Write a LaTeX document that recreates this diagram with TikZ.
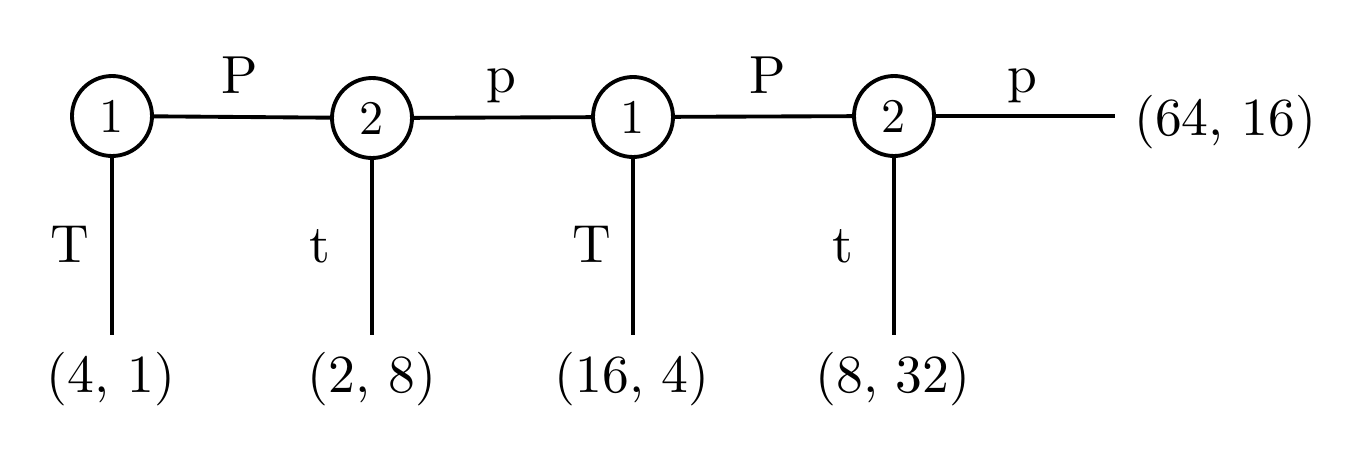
\documentclass[tikz,border=0pt]{standalone}
\newcommand{\bigtxt}[1]{\scalebox{3.05}{#1}}
\newcommand{\circtxt}[1]{\scalebox{2.75}{#1}}
\begin{document}
\begin{tikzpicture}[x=0.02cm,y=-0.02cm,
  state/.style={circle,draw,line width=2.2pt,minimum size=1.6cm,inner sep=0pt},
  wire/.style={line width=2.2pt},
  lbl/.style={inner sep=0pt,anchor=base}]
\useasboundingbox (0,0) rectangle (1350,470);
\node[state] (n1) at (112,116) {\circtxt{1}};
\node[state] (n2) at (372,118) {\circtxt{2}};
\node[state] (n3) at (633,117) {\circtxt{1}};
\node[state] (n4) at (894,116) {\circtxt{2}};
\coordinate (b1) at (112,335);
\coordinate (b2) at (372,335);
\coordinate (b3) at (633,335);
\coordinate (b4) at (894,335);
\coordinate (e) at (1115,116);
\draw[wire] (n1) -- (n2);
\draw[wire] (n2) -- (n3);
\draw[wire] (n3) -- (n4);
\draw[wire] (n4) -- (e);
\draw[wire] (n1) -- (b1);
\draw[wire] (n2) -- (b2);
\draw[wire] (n3) -- (b3);
\draw[wire] (n4) -- (b4);
\node[lbl] (l1) at (240,93) {\bigtxt{P}};
\node[lbl] (l2) at (501,92) {\bigtxt{p}};
\node[lbl] (l3) at (768,93) {\bigtxt{P}};
\node[lbl] (l4) at (1022,92) {\bigtxt{p}};
\node[lbl] (v1) at (70,262) {\bigtxt{T}};
\node[lbl] (v2) at (320,262) {\bigtxt{t}};
\node[lbl] (v3) at (592,262) {\bigtxt{T}};
\node[lbl] (v4) at (843,262) {\bigtxt{t}};
\node[lbl] (o1) at (111,392) {\bigtxt{(4, 1)}};
\node[lbl] (o2) at (372,392) {\bigtxt{(2, 8)}};
\node[lbl] (o3) at (632,392) {\bigtxt{(16, 4)}};
\node[lbl] (o4) at (893,392) {\bigtxt{(8, 32)}};
\node[lbl,anchor=base west] (o5) at (1134,135) {\bigtxt{(64, 16)}};
\end{tikzpicture}
\end{document}
